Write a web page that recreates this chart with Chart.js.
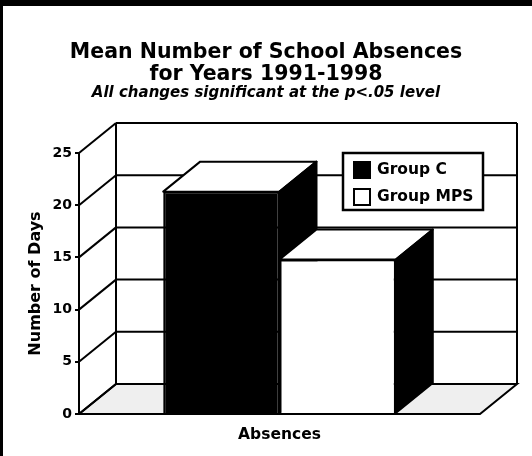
<!DOCTYPE html>
<html>
<head>
<meta charset="utf-8">
<script src="https://cdn.jsdelivr.net/npm/chart.js@4.4.0/dist/chart.umd.min.js"></script>
<style>
  html, body { margin: 0; padding: 0; background: #fff; overflow: hidden; }
  canvas { display: block; }
</style>
</head>
<body>
<canvas id="absenceChart" width="532" height="456"></canvas>
<script>
var categories = ['Absences'];
var groupC = [21.3];
var groupMPS = [14.8];
var seriesLabels = ['Group C', 'Group MPS'];
var seriesFill = ['#000000', '#ffffff'];
var yMax = 25;
var yStep = 5;

// depth of the 3D box (offset from front plane to back wall)
var DX = 37, DY = -30;
var FONT = "'DejaVu Sans', sans-serif";

function line(ctx, x1, y1, x2, y2) {
    ctx.beginPath();
    ctx.moveTo(x1, y1);
    ctx.lineTo(x2, y2);
    ctx.stroke();
}

function poly(ctx, pts, fill) {
    ctx.beginPath();
    ctx.moveTo(pts[0][0], pts[0][1]);
    for (var i = 1; i < pts.length; i++) ctx.lineTo(pts[i][0], pts[i][1]);
    ctx.closePath();
    ctx.fillStyle = fill;
    ctx.fill();
    ctx.stroke();
}

var box3d = {
    id: 'box3d',
    beforeDraw: function (chart) {
        var ctx = chart.ctx, a = chart.chartArea, ys = chart.scales.y;
        ctx.save();
        ctx.fillStyle = '#fff';
        ctx.fillRect(0, 0, chart.width, chart.height);
        // frame edges
        ctx.fillStyle = '#000';
        ctx.fillRect(0, 0, chart.width, 6);
        ctx.fillRect(0, 0, 3, chart.height);

        ctx.strokeStyle = '#000';
        ctx.lineWidth = 2;
        // floor
        poly(ctx, [[a.left, a.bottom], [a.right, a.bottom], [a.right + DX, a.bottom + DY], [a.left + DX, a.bottom + DY]], '#efefef');
        // back wall + side wall grid
        var top = ys.getPixelForValue(yMax);
        line(ctx, a.left + DX, top + DY, a.left + DX, a.bottom + DY);
        line(ctx, a.right + DX, top + DY, a.right + DX, a.bottom + DY);
        ys.ticks.forEach(function (t) {
            var py = ys.getPixelForValue(t.value);
            line(ctx, a.left, py, a.left + DX, py + DY);
            line(ctx, a.left + DX, py + DY, a.right + DX, py + DY);
        });
        ctx.restore();
    },
    beforeDatasetsDraw: function (chart) {
        var ctx = chart.ctx;
        ctx.save();
        ctx.strokeStyle = '#000';
        ctx.lineWidth = 2;
        ctx.lineJoin = 'round';
        chart.data.datasets.forEach(function (ds, i) {
            chart.getDatasetMeta(i).data.forEach(function (bar) {
                var p = bar.getProps(['x', 'y', 'base', 'width'], true);
                var l = p.x - p.width / 2, r = p.x + p.width / 2;
                // top face
                poly(ctx, [[l, p.y], [r, p.y], [r + DX, p.y + DY], [l + DX, p.y + DY]], '#fff');
                // side face
                poly(ctx, [[r, p.y], [r + DX, p.y + DY], [r + DX, p.base + DY], [r, p.base]], '#000');
            });
        });
        ctx.restore();
    },
    afterDraw: function (chart) {
        // legend box inside the plot
        var ctx = chart.ctx;
        var bx = 343, by = 153, bw = 140, bh = 57;
        ctx.save();
        ctx.fillStyle = '#fff';
        ctx.strokeStyle = '#000';
        ctx.lineWidth = 2.5;
        ctx.fillRect(bx, by, bw, bh);
        ctx.strokeRect(bx, by, bw, bh);
        ctx.font = 'bold 15.5px ' + FONT;
        ctx.textBaseline = 'middle';
        chart.data.datasets.forEach(function (ds, i) {
            var cy = by + 17 + i * 27;
            ctx.fillStyle = ds.backgroundColor;
            ctx.lineWidth = 2;
            ctx.fillRect(bx + 11, cy - 8, 16, 16);
            ctx.strokeRect(bx + 11, cy - 8, 16, 16);
            ctx.fillStyle = '#000';
            ctx.fillText(ds.label, bx + 34, cy);
        });
        ctx.restore();
    }
};

new Chart(document.getElementById('absenceChart'), {
    type: 'bar',
    data: {
        labels: categories,
        datasets: [
            { label: seriesLabels[0], data: groupC, backgroundColor: seriesFill[0], borderColor: '#000', borderWidth: 2, categoryPercentage: 0.58, barPercentage: 1 },
            { label: seriesLabels[1], data: groupMPS, backgroundColor: seriesFill[1], borderColor: '#000', borderWidth: 2, categoryPercentage: 0.58, barPercentage: 1 }
        ]
    },
    options: {
        responsive: false,
        animation: false,
        devicePixelRatio: 1,
        layout: { padding: { left: 4, right: 4, top: 0, bottom: 0 } },
        plugins: {
            legend: { display: false },
            tooltip: { enabled: false },
            title: {
                display: true,
                text: ['Mean Number of School Absences', 'for Years 1991-1998'],
                color: '#000',
                font: { family: FONT, size: 20.5, weight: 'bold', lineHeight: 22 / 20.5 },
                padding: { top: 41.5, bottom: 0 }
            },
            subtitle: {
                display: true,
                text: 'All changes significant at the p<.05 level',
                color: '#000',
                font: { family: FONT, size: 15, weight: 'bold', style: 'italic', lineHeight: 1 },
                padding: { top: 0, bottom: 52.5 }
            }
        },
        scales: {
            x: {
                grid: { display: false, drawTicks: false },
                border: { display: false },
                ticks: { color: '#000', padding: 12, font: { family: FONT, size: 15.5, weight: 'bold' } },
                afterFit: function (s) { s.height = 42; }
            },
            y: {
                min: 0,
                max: yMax,
                ticks: { stepSize: yStep, padding: 3, color: '#000', font: { family: FONT, size: 14, weight: 'bold' } },
                grid: { drawOnChartArea: false, drawTicks: true, tickLength: 4, color: '#000', lineWidth: 2 },
                border: { display: true, color: '#000', width: 2 },
                title: { display: true, text: 'Number of Days', color: '#000', font: { family: FONT, size: 16, weight: 'bold' }, padding: { top: 22, bottom: 0 } },
                afterFit: function (s) { s.width = 75; }
            },
            depth: {
                type: 'linear',
                position: 'right',
                grid: { display: false },
                border: { display: false },
                ticks: { display: false },
                afterFit: function (s) { s.width = 48; }
            }
        }
    },
    plugins: [box3d]
});
</script>
</body>
</html>
